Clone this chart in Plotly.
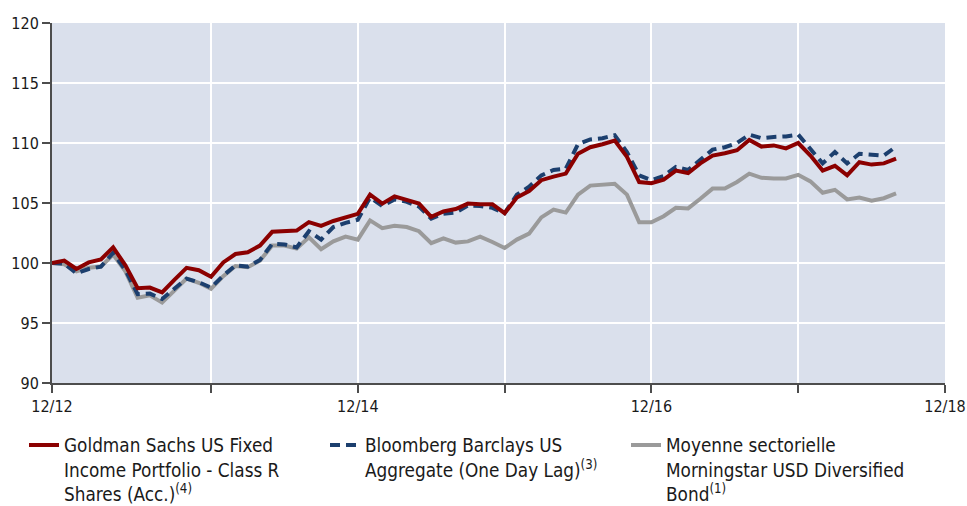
import plotly.graph_objects as go

months = list(range(70))

gs_fund = [100.0, 100.2, 99.5, 100.05, 100.3, 101.3, 99.8, 97.9, 97.95, 97.55,
           98.6, 99.6, 99.4, 98.85, 100.05, 100.75, 100.9, 101.45, 102.6, 102.68,
           102.7, 103.4, 103.1, 103.5, 103.8, 104.1, 105.7, 104.95, 105.55, 105.25,
           104.95, 103.85, 104.3, 104.5, 104.95, 104.9, 104.9, 104.15, 105.45, 106.0,
           106.9, 107.2, 107.45, 109.1, 109.65, 109.9, 110.2, 108.85, 106.75, 106.65,
           106.95, 107.7, 107.5, 108.3, 108.95, 109.15, 109.4, 110.25, 109.7, 109.8,
           109.55, 110.0, 108.95, 107.7, 108.1, 107.3, 108.4, 108.2, 108.3, 108.7]

bbg_agg = [100.0, 99.95, 99.15, 99.5, 99.7, 100.85, 99.4, 97.4, 97.45, 97.0,
           97.85, 98.7, 98.4, 97.95, 98.95, 99.8, 99.7, 100.25, 101.6, 101.55,
           101.3, 102.65, 101.95, 103.0, 103.35, 103.6, 105.45, 104.75, 105.3, 105.1,
           104.7, 103.7, 104.1, 104.2, 104.8, 104.75, 104.6, 104.15, 105.7, 106.35,
           107.3, 107.75, 107.85, 109.9, 110.3, 110.4, 110.65, 109.25, 107.3, 106.9,
           107.25, 108.0, 107.75, 108.6, 109.45, 109.65, 110.0, 110.7, 110.4, 110.5,
           110.55, 110.7, 109.5, 108.3, 109.25, 108.3, 109.1, 109.0, 108.95, 109.7]

morningstar = [100.0, 99.9, 99.3, 99.6, 99.7, 100.7, 99.3, 97.1, 97.3, 96.7,
               97.7, 98.7, 98.35, 97.85, 98.9, 99.75, 99.65, 100.2, 101.45, 101.45,
               101.2, 102.15, 101.15, 101.8, 102.2, 101.95, 103.55, 102.9, 103.1, 103.0,
               102.65, 101.65, 102.05, 101.7, 101.8, 102.2, 101.75, 101.25, 101.95, 102.45,
               103.8, 104.45, 104.2, 105.7, 106.45, 106.5, 106.6, 105.7, 103.4, 103.4,
               103.9, 104.6, 104.55, 105.35, 106.2, 106.2, 106.75, 107.45, 107.1, 107.05,
               107.05, 107.35, 106.8, 105.85, 106.1, 105.3, 105.45, 105.2, 105.4, 105.8]

x_tickvals = [0, 13, 25, 37, 49, 61, 73]
x_ticktext = ["12/12", "", "12/14", "", "12/16", "", "12/18"]
y_tickvals = [90, 95, 100, 105, 110, 115, 120]

names = [
    "Goldman Sachs US Fixed<br>Income Portfolio - Class R<br>Shares (Acc.)<sup>(4)</sup>",
    "Bloomberg Barclays US<br>Aggregate (One Day Lag)<sup>(3)</sup>",
    "Moyenne sectorielle<br>Morningstar USD Diversified<br>Bond<sup>(1)</sup>",
]

FONT = "DejaVu Sans Condensed, Liberation Sans Narrow, sans-serif"

W, H = 967, 506
L, T, R = 52, 23, 22
PLOT_H = 360
B = H - T - PLOT_H
PLOT_W = W - L - R

fig = go.Figure()
fig.add_trace(go.Scatter(x=months, y=morningstar, mode="lines", name=names[2],
                         line=dict(color="#9a9a9a", width=4), legendrank=3))
fig.add_trace(go.Scatter(x=months, y=bbg_agg, mode="lines", name=names[1],
                         line=dict(color="#1c3f6e", width=4, dash="10px,6px"), legendrank=2))
fig.add_trace(go.Scatter(x=months, y=gs_fund, mode="lines", name=names[0],
                         line=dict(color="#8b0000", width=4), legendrank=1))

fig.update_layout(
    width=W, height=H,
    margin=dict(l=L, r=R, t=T, b=B, autoexpand=False),
    paper_bgcolor="white",
    plot_bgcolor="#dae0ec",
    font=dict(family=FONT, size=16, color="#1a1a1a"),
    showlegend=True,
    legend=dict(orientation="h", xref="paper", x=(24 - L) / PLOT_W, xanchor="left",
                yref="paper", y=-0.12, yanchor="top",
                entrywidth=256, entrywidthmode="pixels", valign="top",
                font=dict(size=18.8, family=FONT, color="#1a1a1a"),
                bgcolor="rgba(0,0,0,0)", itemwidth=30),
    xaxis=dict(range=[0, 73], tickvals=x_tickvals, ticktext=x_ticktext,
               showgrid=True, gridcolor="white", gridwidth=2,
               showline=True, linecolor="#4d4d4d", linewidth=2,
               ticks="outside", ticklen=8, tickcolor="#4d4d4d", tickwidth=1.5,
               zeroline=False, fixedrange=True),
    yaxis=dict(range=[90, 120], tickvals=y_tickvals,
               showgrid=True, gridcolor="white", gridwidth=2,
               showline=True, linecolor="#4d4d4d", linewidth=2,
               ticks="outside", ticklen=8, tickcolor="#4d4d4d", tickwidth=1.5,
               zeroline=False, fixedrange=True),
)

# place the 967x506 figure at the page's top-left corner (no default body margin)
fig.write_html("out.html", config={"displayModeBar": False},
               post_script="document.body.style.margin='0';")
